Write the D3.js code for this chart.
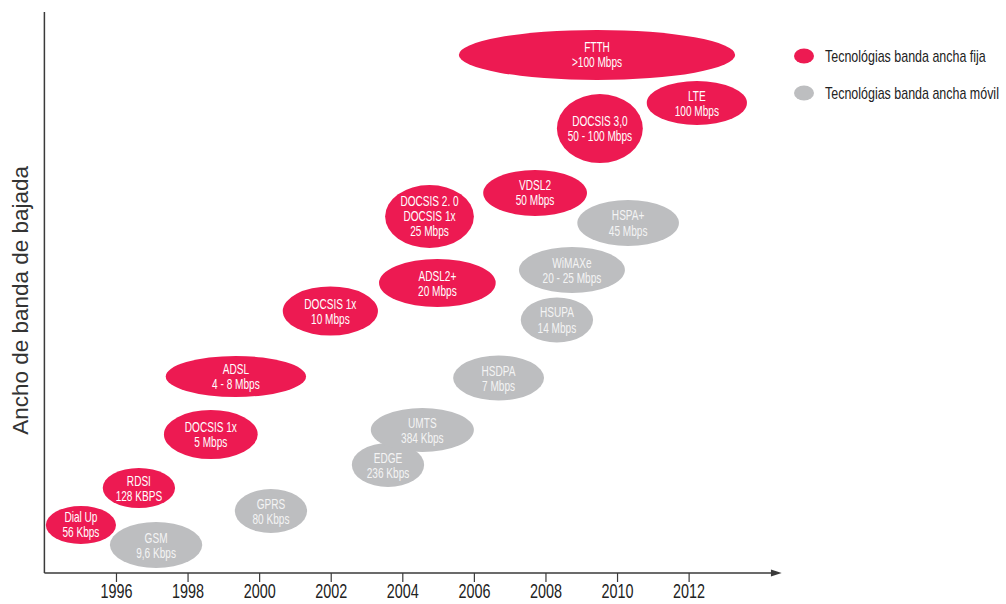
<!DOCTYPE html>
<html>
<head>
    <meta charset='utf-8'>
    <title>Ancho de banda de bajada</title>
    <style>
    body {
      margin: 0;
      background: #fff;
      font-family: 'Liberation Sans', Arial, sans-serif;
    }
    svg { display: block; }
    </style>
    <script src='https://d3js.org/d3.v7.min.js'></script>
</head>
<body>
<div id="container"></div>
<script>
// ******* Constants *******
const width = 1006,
      height = 604;

const red = "#ed1a52",
      grey = "#bdbec0";

// ******* Data *******
// each bubble: years covered (from/to) and its band of download speed (lo/hi, 0-100 level)
const names    = ["Dial Up", "RDSI", "DOCSIS 1x", "ADSL", "DOCSIS 1x", "ADSL2+",
                  "DOCSIS 2. 0|DOCSIS 1x", "VDSL2", "DOCSIS 3,0", "FTTH", "LTE",
                  "GSM", "GPRS", "EDGE", "UMTS", "HSDPA", "HSUPA", "WiMAXe", "HSPA+"];
const speeds   = ["56 Kbps", "128 KBPS", "5 Mbps", "4 - 8 Mbps", "10 Mbps", "20 Mbps",
                  "25 Mbps", "50 Mbps", "50 - 100 Mbps", ">100 Mbps", "100 Mbps",
                  "9,6 Kbps", "80 Kbps", "236 Kbps", "384 Kbps", "7 Mbps", "14 Mbps", "20 - 25 Mbps", "45 Mbps"];
const kinds    = ["fija", "fija", "fija", "fija", "fija", "fija",
                  "fija", "fija", "fija", "fija", "fija",
                  "movil", "movil", "movil", "movil", "movil", "movil", "movil", "movil"];
const yearFrom = [1994.04, 1995.63, 1997.34, 1997.39, 2000.66, 2003.35,
                  2003.52, 2006.26, 2008.32, 2005.58, 2010.83,
                  1995.83, 1999.32, 2002.59, 2003.12, 2005.42, 2007.31, 2007.26, 2008.89];
const yearTo   = [1996.00, 1997.65, 1999.96, 2001.31, 2003.32, 2006.61,
                  2006.00, 2009.16, 2010.72, 2013.30, 2013.63,
                  1998.41, 2001.34, 2004.61, 2006.00, 2007.96, 2009.33, 2010.22, 2011.73];
const levelLo  = [5.17, 11.58, 20.32, 31.38, 42.33, 47.41,
                  57.94, 63.64, 73.08, 87.88, 79.86,
                  0.89, 7.13, 15.33, 21.57, 30.75, 41.09, 49.91, 58.29];
const levelHi  = [11.95, 18.72, 29.06, 38.68, 51.07, 55.97,
                  69.16, 71.84, 85.38, 96.80, 87.70,
                  9.09, 14.97, 23.17, 29.41, 38.77, 49.11, 58.11, 66.49];

const tickYears = [1996, 1998, 2000, 2002, 2004, 2006, 2008, 2010, 2012];
const legendLabels = ["Tecnológias banda ancha fija", "Tecnológias banda ancha móvil"];
const yTitle = "Ancho de banda de bajada";

const bubbles = names.map(function(n, i) {
  return {name: n, speed: speeds[i], kind: kinds[i],
          x0: yearFrom[i], x1: yearTo[i], y0: levelLo[i], y1: levelHi[i]};
});

// ******* Set Scales *******
var x = d3.scaleLinear()
    .domain([1994, 2014])
    .range([44.4, 760.2]);
var y = d3.scaleLinear()
    .domain([0, 100])
    .range([573, 12]);

// ******* Create SVG *******
var svg = d3.select("#container").append("svg")
    .attr("width", width)
    .attr("height", height);

// ******* Bubbles *******
var g = svg.selectAll("g.bubble")
    .data(bubbles)
    .enter()
    .append("g")
    .attr("class", "bubble")
    .attr("transform", function(d) {
      return "translate(" + x((d.x0 + d.x1) / 2) + "," + y((d.y0 + d.y1) / 2) + ")";
    });

g.append("ellipse")
    .attr("rx", function(d) {return (x(d.x1) - x(d.x0)) / 2})
    .attr("ry", function(d) {return (y(d.y0) - y(d.y1)) / 2})
    .attr("fill", function(d) {return d.kind === "fija" ? red : grey});

g.each(function(d) {
  var lines = d.name.split("|").concat([d.speed]);
  var t = d3.select(this).append("text")
      .attr("transform", "scale(0.72,1)")
      .attr("text-anchor", "middle")
      .attr("font-size", 14)
      .attr("fill", d.kind === "fija" ? "#ffffff" : "#f4f4f4");
  lines.forEach(function(l, i) {
    t.append("tspan")
      .attr("x", 0)
      .attr("y", (i - (lines.length - 1) / 2) * 15 + 5)
      .text(l);
  });
});

// ******* Axes *******
var axisColor = "#3a3a3a";

svg.append("line")
    .attr("x1", x(1994)).attr("x2", x(1994))
    .attr("y1", y(0)).attr("y2", y(100))
    .attr("stroke", axisColor)
    .attr("stroke-width", 1.5);

svg.append("line")
    .attr("x1", x(1994)).attr("x2", x(2014.45))
    .attr("y1", y(0)).attr("y2", y(0))
    .attr("stroke", axisColor)
    .attr("stroke-width", 1.5);

// arrow head on the x axis
svg.append("path")
    .attr("d", d3.line()([[x(2014.3), y(0) - 3.5], [x(2014.6), y(0)], [x(2014.3), y(0) + 3.5]]) + "Z")
    .attr("fill", axisColor);

var xAxis = svg.append("g")
    .attr("transform", "translate(0," + y(0) + ")")
    .call(d3.axisBottom(x)
      .tickValues(tickYears)
      .tickFormat(d3.format("d"))
      .tickSize(9)
      .tickPadding(2)
      .tickSizeOuter(0));

xAxis.select(".domain").remove();
xAxis.selectAll(".tick line").attr("stroke", axisColor).attr("stroke-width", 1.2);
xAxis.selectAll(".tick text")
    .attr("font-family", "'Liberation Sans', Arial, sans-serif")
    .attr("font-size", 20)
    .attr("fill", "#222")
    .attr("transform", "scale(0.72,1)");

// y title
svg.append("text")
    .attr("transform", "translate(28," + y(48.6) + ") rotate(-90)")
    .attr("text-anchor", "middle")
    .attr("font-size", 22.5)
    .attr("fill", "#333")
    .text(yTitle);

// ******* Legend *******
var legend = svg.selectAll("g.legend")
    .data(legendLabels)
    .enter()
    .append("g")
    .attr("class", "legend")
    .attr("transform", function(d, i) {return "translate(804," + (56 + i * 37) + ")"});

legend.append("ellipse")
    .attr("rx", 10)
    .attr("ry", 7.5)
    .attr("fill", function(d, i) {return i === 0 ? red : grey});

legend.append("text")
    .attr("transform", "translate(21,0) scale(0.78,1)")
    .attr("y", 5.5)
    .attr("font-size", 16)
    .attr("fill", "#222")
    .text(function(d) {return d});

</script>
</body>
</html>
